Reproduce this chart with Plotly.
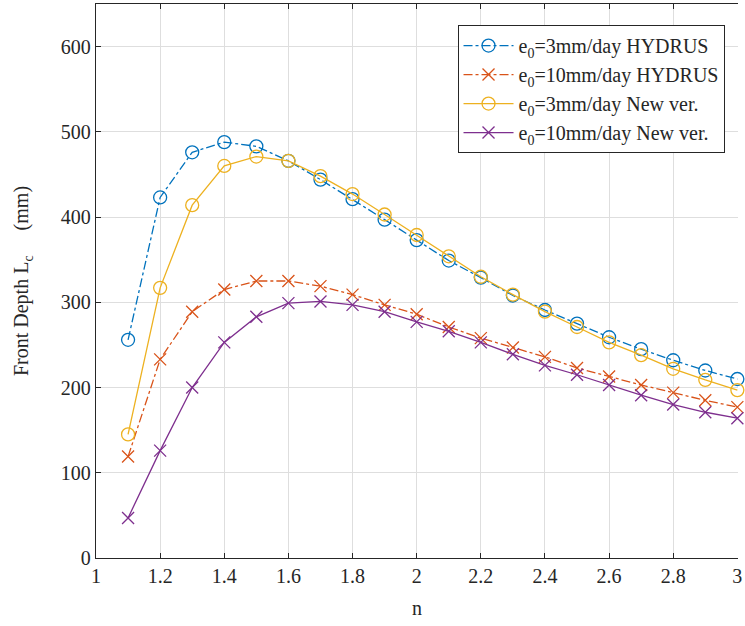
import plotly.graph_objects as go

n_vals = [1.1, 1.2, 1.3, 1.4, 1.5, 1.6, 1.7, 1.8, 1.9, 2.0,
          2.1, 2.2, 2.3, 2.4, 2.5, 2.6, 2.7, 2.8, 2.9, 3.0]

hydrus_3 = [256, 423, 476, 488, 483, 466, 444, 421, 397, 373,
            349, 329, 308, 291, 275, 259, 245, 232, 220, 210]
hydrus_10 = [119, 233, 289, 315, 325, 325, 319, 309, 297, 286,
             271, 258, 247, 236, 223, 213, 203, 194, 185, 177]
new_3 = [145, 317, 414, 460, 471, 466, 448, 427, 403, 379,
         354, 330, 309, 289, 271, 253, 238, 222, 209, 197]
new_10 = [47, 126, 200, 253, 283, 299, 301, 297, 289, 277,
          266, 253, 239, 226, 215, 203, 191, 180, 171, 164]

names = ["e<sub>0</sub>=3mm/day HYDRUS", "e<sub>0</sub>=10mm/day HYDRUS",
         "e<sub>0</sub>=3mm/day New ver.", "e<sub>0</sub>=10mm/day New ver."]

x_ticks = [1, 1.2, 1.4, 1.6, 1.8, 2, 2.2, 2.4, 2.6, 2.8, 3]
x_tick_text = ["1", "1.2", "1.4", "1.6", "1.8", "2", "2.2", "2.4", "2.6", "2.8", "3"]
y_ticks = [0, 100, 200, 300, 400, 500, 600]

FONT = "Liberation Serif, Times New Roman, serif"

fig = go.Figure()
styles = [
    (hydrus_3, "#0072BD", "dashdot", "circle-open", 13),
    (hydrus_10, "#D95319", "dashdot", "x-thin-open", 12),
    (new_3, "#EDB120", "solid", "circle-open", 13),
    (new_10, "#7E2F8E", "solid", "x-thin-open", 12),
]
for (ys, col, dash, sym, sz), nm in zip(styles, names):
    fig.add_trace(go.Scatter(
        x=n_vals, y=ys, name=nm, mode="lines+markers",
        line=dict(color=col, width=1.3, dash=dash),
        marker=dict(symbol=sym, size=sz, color=col, line=dict(color=col, width=1.3)),
        cliponaxis=False,
    ))

fig.update_layout(
    width=745, height=626,
    margin=dict(l=96, r=3, t=4, b=68),
    paper_bgcolor="white", plot_bgcolor="white",
    font=dict(family=FONT, size=20, color="#262626"),
    showlegend=True,
    legend=dict(
        x=0.979, y=0.962, xanchor="right", yanchor="top",
        bgcolor="white", bordercolor="#262626", borderwidth=1,
        font=dict(family=FONT, size=20, color="#262626"),
        itemwidth=50, tracegroupgap=0,
    ),
    xaxis=dict(
        range=[1, 3.002], tickmode="array", tickvals=x_ticks, ticktext=x_tick_text,
        showgrid=True, gridcolor="#dedede", gridwidth=1,
        showline=True, linecolor="#262626", linewidth=1.3, mirror="ticks",
        ticks="inside", ticklen=5, tickcolor="#262626",
        zeroline=False, ticklabeloverflow="allow",
        title=dict(text="n", font=dict(family=FONT, size=20), standoff=14),
        tickfont=dict(family=FONT, size=20, color="#262626"),
    ),
    yaxis=dict(
        range=[0, 650], tickmode="array", tickvals=y_ticks,
        showgrid=True, gridcolor="#dedede", gridwidth=1,
        showline=True, linecolor="#262626", linewidth=1.3,
        ticks="inside", ticklen=5, tickcolor="#262626",
        zeroline=False,
        title=dict(text="Front Depth L<sub>c</sub>\u00a0\u00a0\u00a0\u00a0\u00a0(mm)",
                   font=dict(family=FONT, size=20), standoff=26),
        tickfont=dict(family=FONT, size=20, color="#262626"),
    ),
)

fig.write_html("out.html", config={"displayModeBar": False},
               post_script="document.body.style.margin='0';")
